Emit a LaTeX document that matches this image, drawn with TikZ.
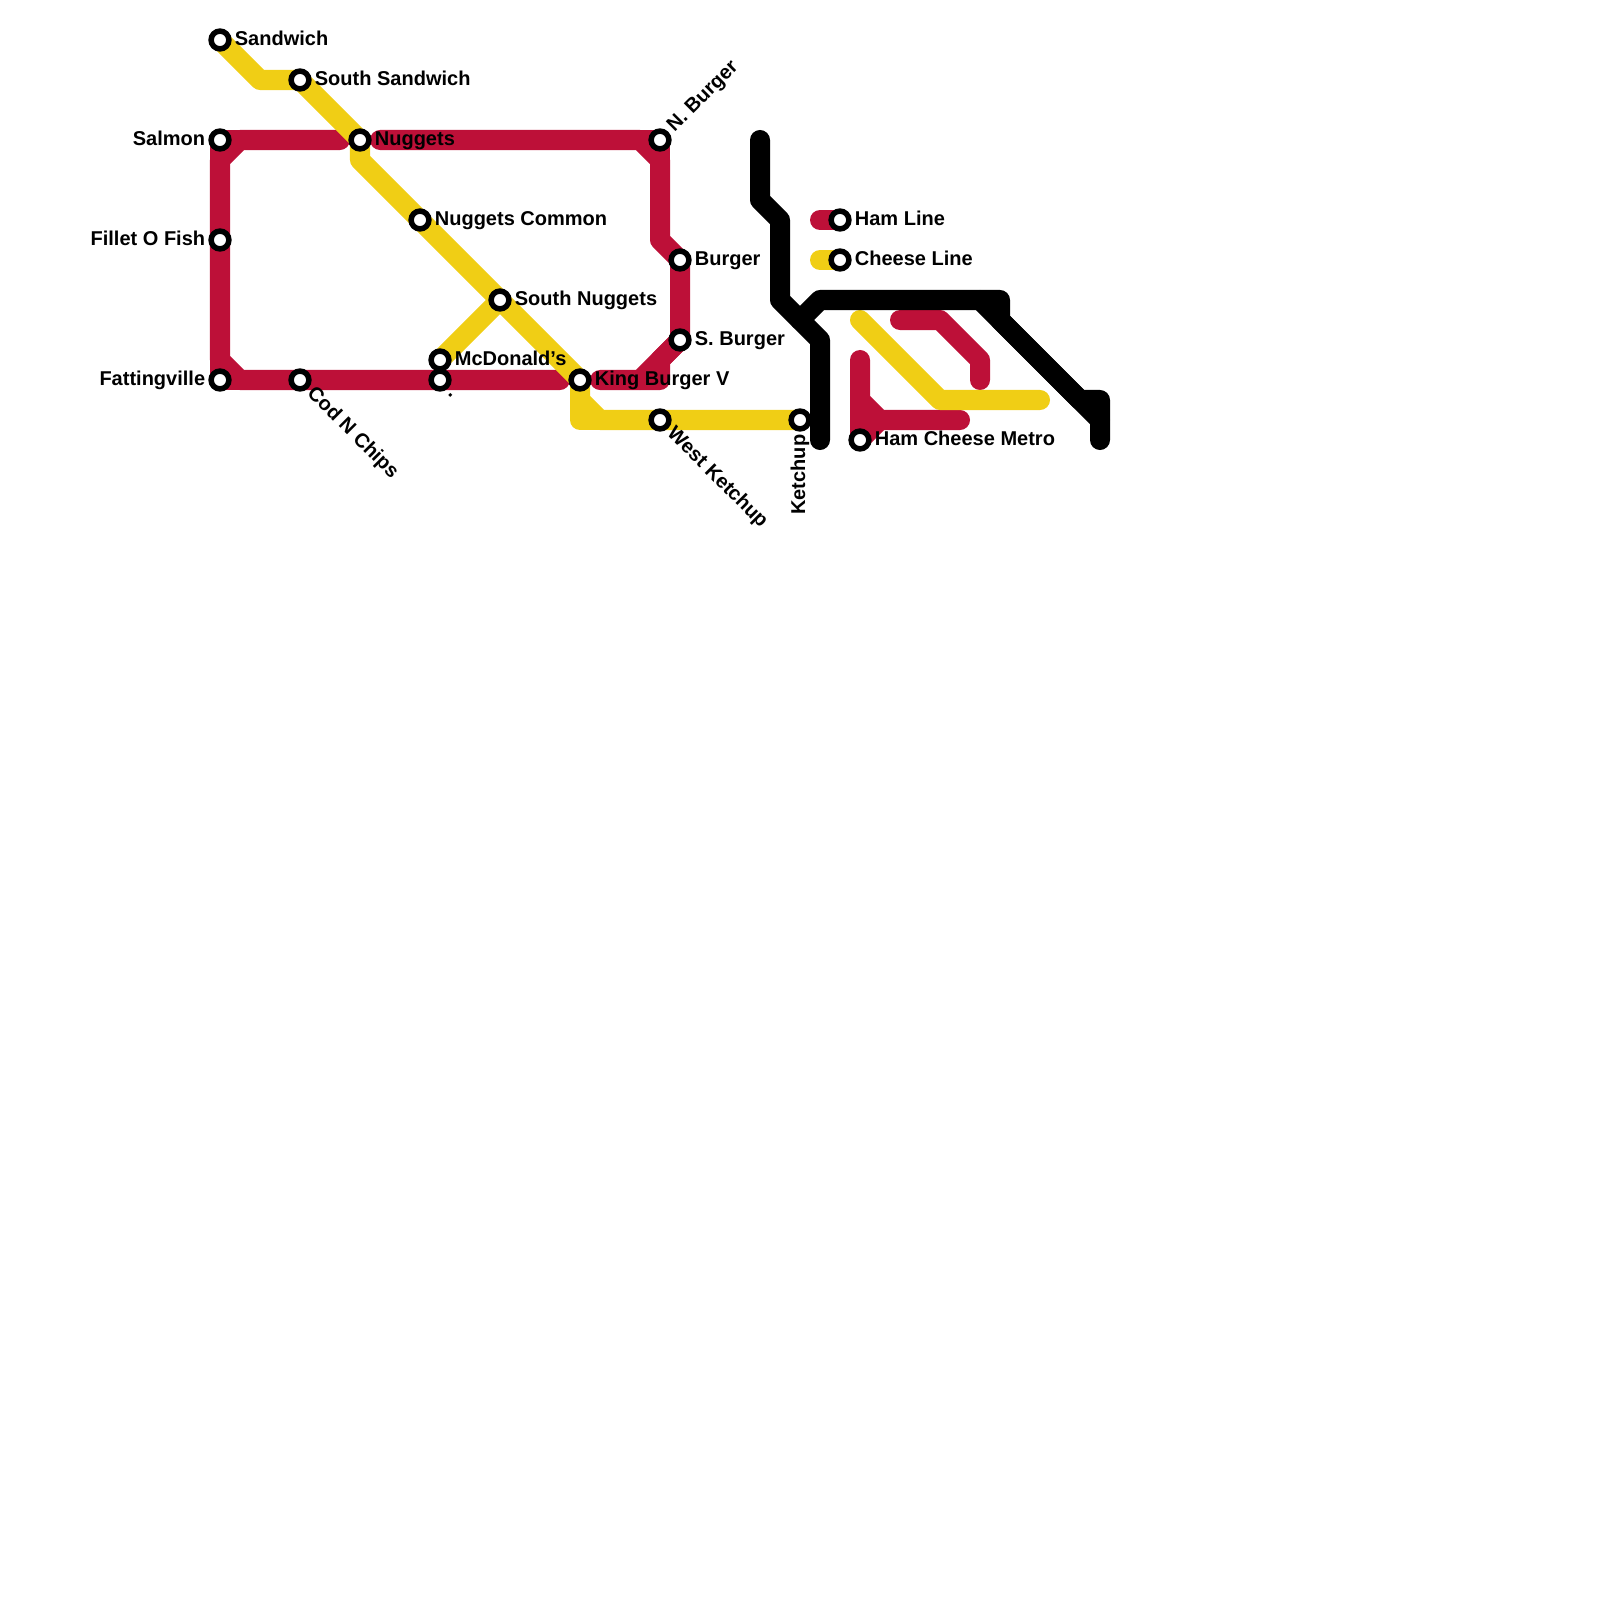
\documentclass[tikz,border=0pt]{standalone}
\usepackage{fontspec}
\setmainfont{Liberation Sans}
\usetikzlibrary{positioning,backgrounds}
\definecolor{hamred}{HTML}{BD1038}
\definecolor{cheeseyellow}{HTML}{F0CE15}

\begin{document}
\begin{tikzpicture}[
		x=0.01cm,
		y=-0.01cm,
		metroline/.style={
			line width=0.2cm,
			line cap=round,
			line join=round
		},
		hamline/.style={metroline,draw=hamred},
		cheeseline/.style={metroline,draw=cheeseyellow},
		burgerline/.style={metroline,draw=black},
		station/.style={
			circle,
			draw=black,
			fill=white,
			line width=0.055cm,
			minimum size=0.178cm,
			inner sep=0pt
		},
		stationtext/.style={
			inner sep=0pt,
			text height=0.14cm,
			text depth=0.04cm,
			font=\fontsize{5.69pt}{6.8pt}\selectfont\bfseries
		}
		]
		
		\useasboundingbox (0,0) rectangle (1600,1600);
		
		%--------------------------------------------------
		% Stations
		%--------------------------------------------------
		
		\node (sandwich) [station] at (220,40) {};
		\node (southsandwich) [station] at (300,80) {};
		\node (salmon) [station] at (220,140) {};
		\node (nuggets) [station] at (360,140) {};
		\node (nburger) [station] at (660,140) {};
		\node (nuggetscommon) [station] at (420,220) {};
		\node (fillet) [station] at (220,240) {};
		\node (burger) [station] at (680,260) {};
		\node (southnuggets) [station] at (500,300) {};
		\node (sburger) [station] at (680,340) {};
		\node (mcdonalds) [station] at (440,360) {};
		\node (fattingville) [station] at (220,380) {};
		\node (codnchips) [station] at (300,380) {};
		\node (dotstop) [station] at (440,380) {};
		\node (kingburger) [station] at (580,380) {};
		\node (westketchup) [station] at (660,420) {};
		\node (ketchup) [station] at (800,420) {};
		\node (hamkey) [station] at (840,220) {};
		\node (cheesekey) [station] at (840,260) {};
		\node (hamcheese) [station] at (860,440) {};
		
		%--------------------------------------------------
		% Labels
		%--------------------------------------------------
		
		\node (sandwichtxt) [stationtext,right=0.025cm of sandwich] {Sandwich};
		\node (southsandwichtxt) [stationtext,right=0.025cm of southsandwich] {South Sandwich};
		\node (salmontxt) [stationtext,left=0.025cm of salmon] {Salmon};
		\node (nuggetstxt) [stationtext,right=0.025cm of nuggets] {Nuggets};
		\node (nuggetscommontxt) [stationtext,right=0.025cm of nuggetscommon] {Nuggets Common};
		\node (fillettxt) [stationtext,left=0.025cm of fillet] {Fillet O Fish};
		\node (burgertxt) [stationtext,right=0.025cm of burger] {Burger};
		\node (southnuggetstxt) [stationtext,right=0.025cm of southnuggets] {South Nuggets};
		\node (sburgertxt) [stationtext,right=0.025cm of sburger] {S. Burger};
		\node (mcdonaldstxt) [stationtext,right=0.025cm of mcdonalds] {McDonald’s};
		\node (fattingvilletxt) [stationtext,left=0.025cm of fattingville] {Fattingville};
		\node (kingburgertxt) [stationtext,right=0.025cm of kingburger] {King Burger V};
		\node (hamkeytxt) [stationtext,right=0.025cm of hamkey] {Ham Line};
		\node (cheesekeytxt) [stationtext,right=0.025cm of cheesekey] {Cheese Line};
		\node (hamcheesetxt) [stationtext,right=0.025cm of hamcheese] {Ham Cheese Metro};
		
		\node (nburgertxt) [stationtext,rotate=45,anchor=west] at ([shift={(10.5,-10.5)}]nburger.center) {N. Burger};
		\node (codnchipstxt) [stationtext,rotate=-45,anchor=west] at ([shift={(9.5,10.5)}]codnchips.center) {Cod N Chips};
		\node (dotstoptxt) [stationtext,rotate=-45,anchor=west] at ([shift={(10.5,10.5)}]dotstop.center) {.};
		\node (westketchuptxt) [stationtext,rotate=-45,anchor=west] at ([shift={(9.5,10.5)}]westketchup.center) {West Ketchup};
		\node (ketchuptxt) [stationtext,rotate=90,anchor=east] at ([shift={(0,14)}]ketchup.center) {Ketchup};
		
		%--------------------------------------------------
		% Bends
		%--------------------------------------------------
		
		\foreach \bend/\x/\y in {
			ra/340/140, rb/240/140, rc/220/160, rd/220/360, re/240/380, rf/560/380,
			rg/380/140, rh/640/140, ri/660/160, rj/660/240, rk/640/380, rl/600/380,
			rm/660/360, rn/660/380, ro/820/220, rp/900/320, rq/940/320, rr/980/360,
			rs/980/380, rt/860/360, ru/860/400, rv/880/420, rw/960/420,
			ya/260/80, yb/360/160, yc/580/400, yd/600/420, ye/580/420, yf/820/260,
			yg/860/320, yh/940/400, yi/1040/400,
			ba/760/140, bb/760/200, bc/780/220, bd/780/300, be/820/340, bf/820/440,
			bg/800/320, bh/820/300, bi/1000/300, bj/1000/320, bk/1100/420, bl/1100/440,
			bm/980/300, bn/1080/400, bo/1100/400}
		{\coordinate (\bend) at (\x,\y);}
		
		%--------------------------------------------------
		% Lines
		%--------------------------------------------------
		
		\begin{scope}[on background layer]
			
			\draw[hamline] (ra) -- (rb) -- (rc) -- (fillet.center) -- (rd) -- (re) -- (codnchips.center) -- (dotstop.center) -- (rf);
			
			\draw[hamline] (rc) -- (salmon.center) -- (rb);
			
			\draw[hamline] (rd) -- (fattingville.center) -- (re);
			
			\draw[hamline] (rg) -- (rh) -- (ri) -- (rj) -- (burger.center) -- (sburger.center) -- (rk) -- (rl);
			
			\draw[hamline] (rh) -- (nburger.center) -- (ri);
			
			\draw[hamline] (sburger.center) -- (rm) -- (rn) -- (rk);
			
			\draw[hamline] (ro) -- (hamkey.center);
			
			\draw[hamline] (rp) -- (rq) -- (rr) -- (rs);
			
			\draw[hamline] (rt) -- (ru) -- (rv) -- (rw);
			
			\draw[hamline] (ru) -- (hamcheese.center) -- (rv);
			
			\draw[cheeseline] (sandwich.center) -- (ya) -- (southsandwich.center) -- (nuggets.center) -- (yb) -- (nuggetscommon.center) -- (southnuggets.center) -- (kingburger.center) -- (yc) -- (yd) -- (westketchup.center) -- (ketchup.center);
			
			\draw[cheeseline] (yc) -- (ye) -- (yd);
			
			\draw[cheeseline] (southnuggets.center) -- (mcdonalds.center);
			
			\draw[cheeseline] (yf) -- (cheesekey.center);
			
			\draw[cheeseline] (yg) -- (yh) -- (yi);
			
			\draw[burgerline] (ba) -- (bb) -- (bc) -- (bd) -- (be) -- (bf);
			
			\draw[burgerline] (bg) -- (bh) -- (bi) -- (bj) -- (bk) -- (bl);
			
			\draw[burgerline] (bm) -- (bn) -- (bo) -- (bk);
			
		\end{scope}
		
	\end{tikzpicture}
\end{document}
